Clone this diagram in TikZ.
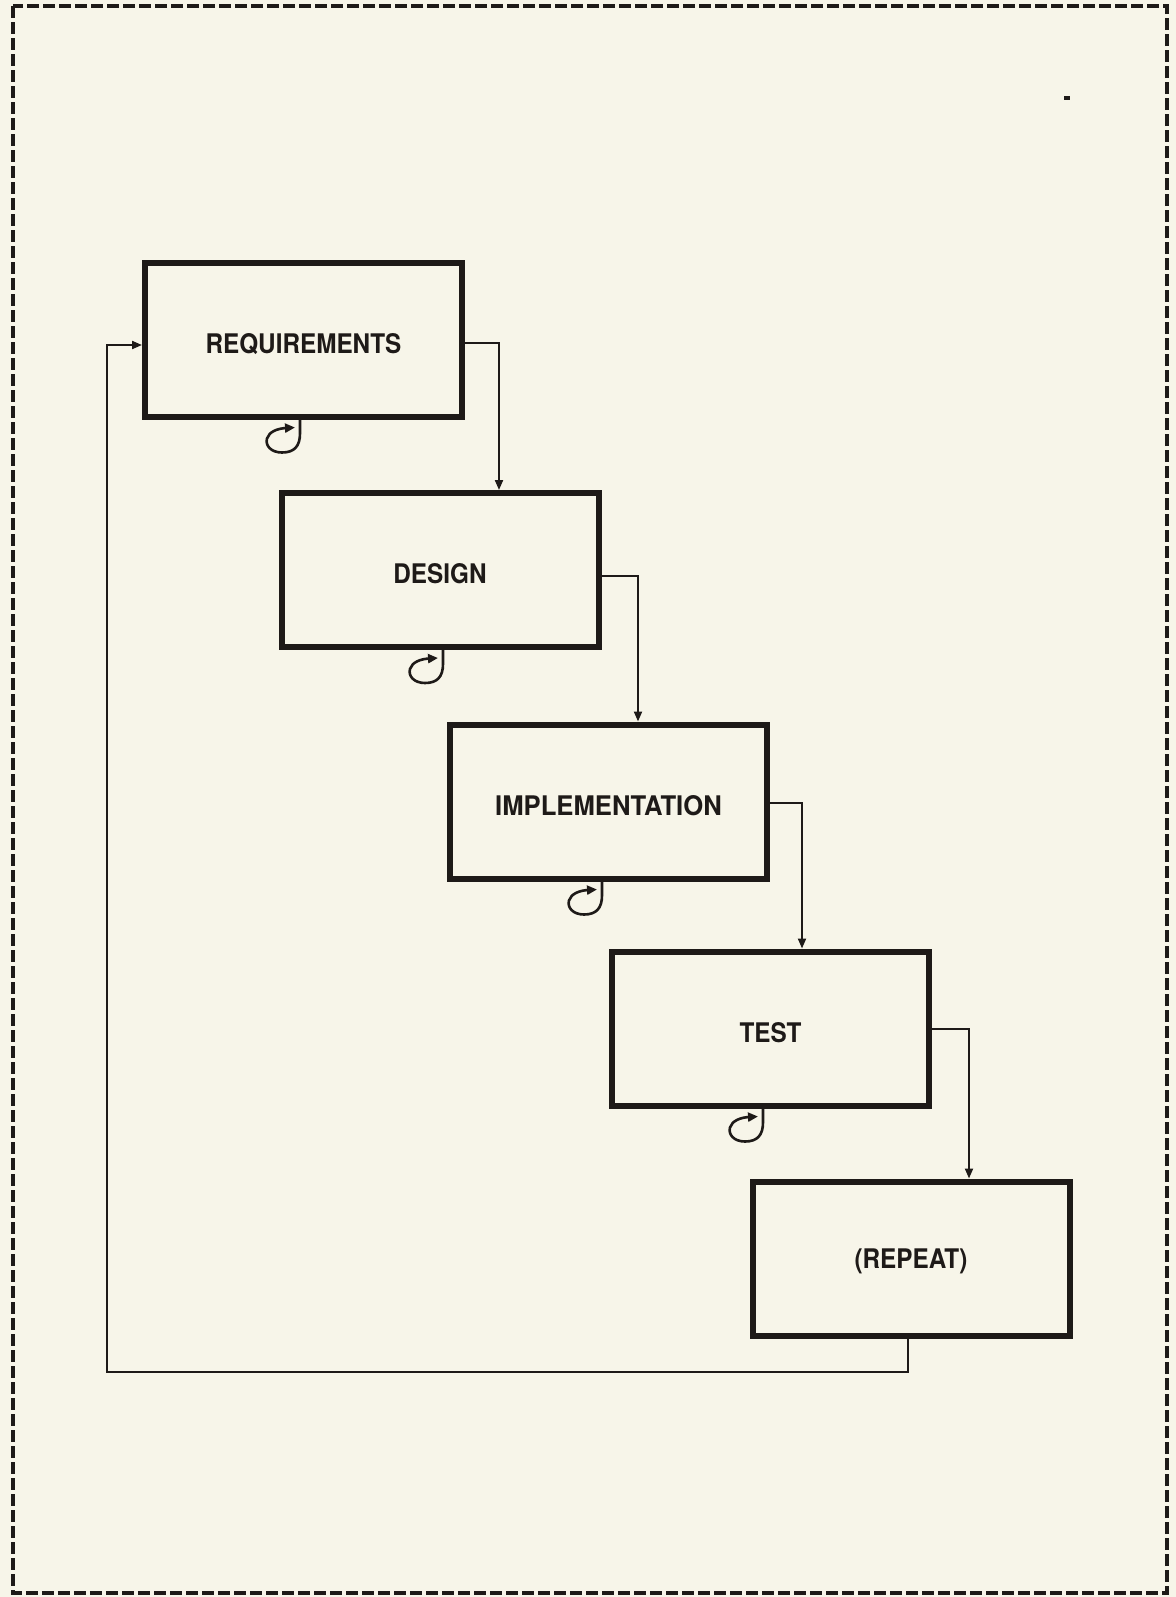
\documentclass[tikz,border=0pt]{standalone}
\usepackage{fontspec}
\setmainfont{TeX Gyre Heros}[FakeStretch=0.9]
\usetikzlibrary{arrows.meta}
\definecolor{paper}{RGB}{247,245,233}
\definecolor{ink}{RGB}{30,26,24}
\tikzset{
  box/.style={draw=ink, line width=3pt, minimum width=158.5pt, minimum height=77pt,
    inner sep=0pt, text height=16.6pt, text depth=2.9pt,
    font=\fontsize{13.5}{15}\selectfont\bfseries, text=ink},
  conn/.style={draw=ink, line width=1pt, -{Triangle[length=5pt,width=4pt]}},
  loopstyle/.style={draw=ink, line width=1.3pt, -{Triangle[length=5pt,width=4.5pt]}},
  frame/.style={draw=ink, line width=1.6pt, dash pattern=on 6pt off 2pt}
}
\newcommand\selfloop[2]{%
  \begin{scope}[shift={([xshift=#2]#1.south)}]
    \draw[loopstyle] (0,0) -- (0,14) .. controls (0,27) and (-6,33) .. (-18,33)
      .. controls (-29,33) and (-35,26) .. (-33,19)
      .. controls (-31,12) and (-22,9) .. (-5,8);
  \end{scope}}
\begin{document}
\begin{tikzpicture}[x=0.5pt, y=-0.5pt]
  \useasboundingbox[fill=paper] (0,0) rectangle (1176,1597);
  \draw[frame] (13,6) rectangle (1167,1593);
  \draw[draw=ink, line width=2pt] (1064,98) -- (1070,98);

  \node[box] (req) at (303.5,339.5) {REQUIREMENTS};
  \node[box] (des) at (440,570) {DESIGN};
  \node[box, font=\fontsize{13.5}{15}\selectfont\bfseries\addfontfeature{FakeStretch=0.95}] (imp) at (608.5,801.5) {IMPLEMENTATION};
  \node[box] (tst) at (770.5,1028.5) {TEST};
  \node[box, text height=12.6pt] (rep) at (911,1258.5) {(REPEAT)};

  \draw[conn] ([yshift=-1.75pt]req.east) -| ([xshift=29.5pt]des.north);
  \draw[conn] ([yshift=-3pt]des.east) -| ([xshift=14.75pt]imp.north);
  \draw[conn] ([yshift=-0.75pt]imp.east) -| ([xshift=15.75pt]tst.north);
  \draw[conn] (tst.east) -| ([xshift=29pt]rep.north);

  \coordinate (ret) at (107,1372);
  \draw[conn] ([xshift=-1.5pt]rep.south) |- (ret) |- ([yshift=-2.75pt]req.west);

  \selfloop{req}{-1.75pt}
  \selfloop{des}{1.5pt}
  \selfloop{imp}{-3.25pt}
  \selfloop{tst}{-3.75pt}
\end{tikzpicture}
\end{document}
